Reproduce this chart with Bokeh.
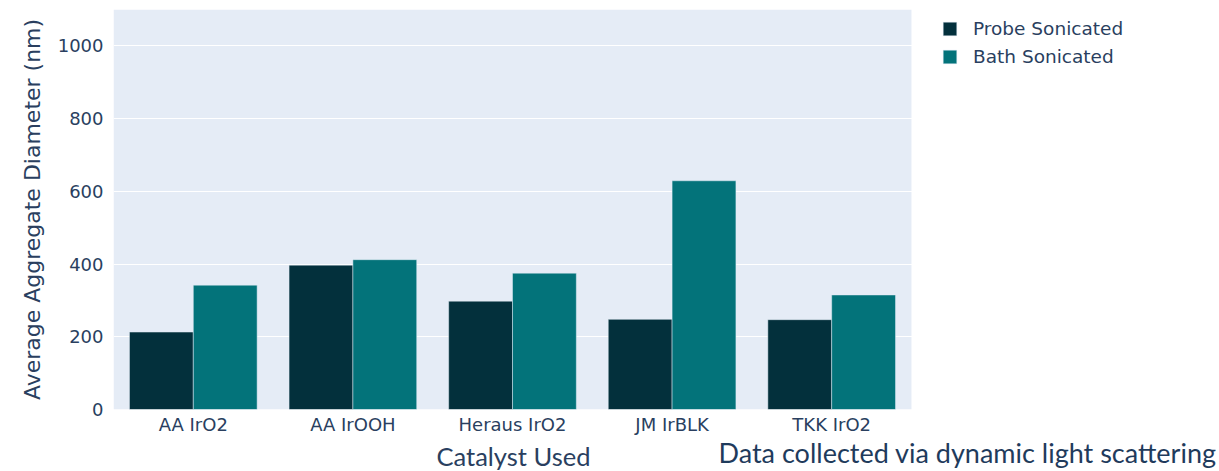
from bokeh.plotting import figure
from bokeh.models import (ColumnDataSource, FixedTicker, Legend, LegendItem,
                          Range1d, Title, BoxAnnotation)
from bokeh.transform import dodge
from bokeh.embed import file_html
from bokeh.resources import INLINE

categories = ["AA IrO2", "AA IrOOH", "Heraus IrO2", "JM IrBLK", "TKK IrO2"]
probe = [213, 397, 298, 248, 247]
bath = [342, 412, 375, 629, 315]
series_names = ["Probe Sonicated", "Bath Sonicated"]
y_ticks = [0, 200, 400, 600, 800, 1000]
x_title = "Catalyst Used"
y_title = "Average Aggregate Diameter (nm)"
caption = "Data collected via dynamic light scattering"

PROBE_C = "#03303c"
BATH_C = "#03737a"
TXT = "#2a3f5f"

idx = list(range(len(categories)))
src = ColumnDataSource(dict(idx=idx, cat=categories, probe=probe, bath=bath))

# plot area holds the 5 categories; extra room on the right for the legend
p = figure(x_range=Range1d(-0.5, 6.43), y_range=Range1d(0, 1100),
           width=1219, height=471, output_backend="svg", toolbar_location=None,
           min_border_left=113, min_border_right=0, min_border_top=9,
           min_border_bottom=62)
p.background_fill_color = "white"
p.border_fill_color = "white"
p.outline_line_color = None

p.add_layout(BoxAnnotation(left=-0.5, right=len(categories) - 0.5,
                           fill_color="#e5ecf6", fill_alpha=1.0,
                           line_color=None, level="image"))

r1 = p.vbar(x=dodge("idx", -0.2), top="probe", width=0.4,
            source=src, fill_color=PROBE_C, line_color="#e5ecf6", line_width=0.5)
r2 = p.vbar(x=dodge("idx", 0.2), top="bath", width=0.4,
            source=src, fill_color=BATH_C, line_color="#e5ecf6", line_width=0.5)

p.xgrid.grid_line_color = None
p.ygrid.grid_line_color = "white"
p.ygrid.grid_line_width = 1

p.yaxis.ticker = FixedTicker(ticks=y_ticks)
p.xaxis.ticker = FixedTicker(ticks=idx)
p.xaxis.major_label_overrides = {i: c for i, c in zip(idx, categories)}
for ax in (p.xaxis[0], p.yaxis[0]):
    ax.axis_line_color = None
    ax.major_tick_line_color = None
    ax.minor_tick_line_color = None
    ax.major_label_text_font = "DejaVu Sans"
    ax.major_label_text_font_size = "18px"
    ax.major_label_text_color = TXT
p.xaxis.major_label_standoff = -2
p.yaxis.major_label_standoff = 4
p.yaxis.axis_label = y_title
p.yaxis.axis_label_text_font = "DejaVu Sans"
p.yaxis.axis_label_text_font_size = "22px"
p.yaxis.axis_label_text_font_style = "normal"
p.yaxis.axis_label_text_color = TXT
p.yaxis.axis_label_standoff = 10

cap = Title(text=caption, align="left", vertical_align="top", offset=605,
            standoff=-4, text_font="Lato", text_font_size="27px",
            text_font_style="normal", text_color="#1f3b5c")
p.add_layout(cap, "below")
xt = Title(text=x_title, align="left", vertical_align="top", offset=323,
           standoff=-56, text_font="Lato", text_font_size="25.5px",
           text_font_style="normal", text_color=TXT)
p.add_layout(xt, "below")

legend = Legend(items=[LegendItem(label=series_names[0], renderers=[r1]),
                       LegendItem(label=series_names[1], renderers=[r2])],
                location=(828, 342), glyph_width=17, glyph_height=17,
                label_standoff=15, spacing=7, padding=0, margin=0,
                border_line_color=None, background_fill_alpha=0,
                label_text_font="DejaVu Sans", label_text_font_size="18.5px",
                label_text_color=TXT)
p.add_layout(legend)

open("out.html", "w").write(file_html(p, INLINE))
